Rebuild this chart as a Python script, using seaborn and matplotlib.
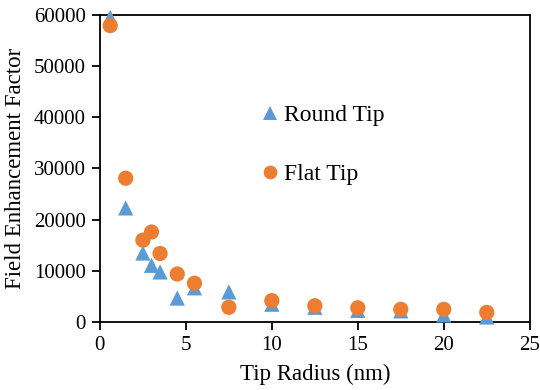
import pandas as pd
import matplotlib
matplotlib.use("Agg")
import matplotlib.pyplot as plt
import seaborn as sns

# tip radius (nm)
radius = [0.6, 1.5, 2.5, 3.0, 3.5, 4.5, 5.5, 7.5, 10, 12.5, 15, 17.5, 20, 22.5]
round_tip = [59500, 22300, 13500, 11100, 9800, 4700, 6700, 5900, 3500, 2900, 2300, 2200, 1400, 1000]
flat_tip = [57900, 28100, 16000, 17600, 13400, 9400, 7600, 2900, 4200, 3200, 2800, 2500, 2500, 1900]

x_ticks = [0, 5, 10, 15, 20, 25]
y_ticks = [0, 10000, 20000, 30000, 40000, 50000, 60000]

df = pd.DataFrame({
    "radius": radius * 2,
    "factor": round_tip + flat_tip,
    "tip": ["Round Tip"] * len(radius) + ["Flat Tip"] * len(radius),
})

sns.set_style("ticks")
plt.rcParams["font.family"] = ["Liberation Serif", "DejaVu Serif"]
plt.rcParams["text.color"] = "black"
plt.rcParams["axes.labelcolor"] = "black"

fig = plt.figure(figsize=(5.4, 3.9), dpi=100)
ax = fig.add_axes([0.185, 0.174, 0.796, 0.788])

sns.scatterplot(data=df, x="radius", y="factor", hue="tip", style="tip",
                palette={"Round Tip": "#5B9BD5", "Flat Tip": "#ED7D31"},
                markers={"Round Tip": "^", "Flat Tip": "o"},
                s=120, linewidth=0, ax=ax, clip_on=False, zorder=3)

ax.set_xlim(0, 25)
ax.set_ylim(0, 60000)
ax.set_xticks(x_ticks)
ax.set_yticks(y_ticks)
ax.tick_params(labelsize=15, direction="out", length=6, width=1.3, colors="black", pad=4)
for s in ax.spines.values():
    s.set_linewidth(1.3)
    s.set_color("black")
ax.set_xlabel("Tip Radius (nm)", fontsize=16.5, labelpad=6, color="black")
ax.set_ylabel("Field Enhancement Factor", fontsize=16.5, labelpad=6, color="black")

leg = ax.legend(loc="upper left", bbox_to_anchor=(0.323, 0.776), frameon=False,
                fontsize=17, labelspacing=1.57, handletextpad=0.2,
                handlelength=0.82, markerscale=0.9, labelcolor="black")

fig.savefig("out.png", dpi=100)
